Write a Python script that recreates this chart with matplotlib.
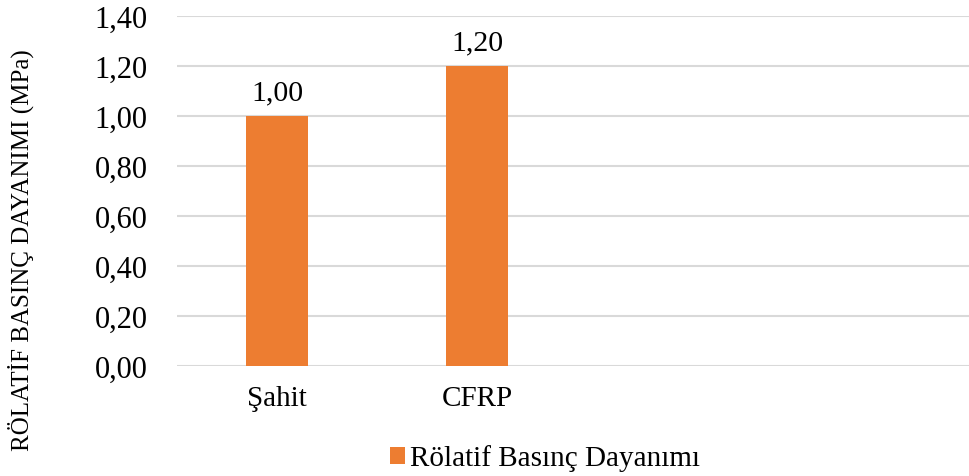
import matplotlib
matplotlib.use("Agg")
import matplotlib.pyplot as plt
from matplotlib.patches import Patch

# Data
categories = ["Şahit", "CFRP"]
values = [1.00, 1.20]
series_name = "Rölatif Basınç Dayanımı"
y_ticks = [0.0, 0.2, 0.4, 0.6, 0.8, 1.0, 1.2, 1.4]

plt.rcParams['font.family'] = ['Liberation Serif', 'DejaVu Serif']

bar_color = "#ED7D31"
grid_color = "#D9D9D9"

fig = plt.figure(figsize=(9.69, 4.77), dpi=100)
ax = fig.add_axes([0.1827, 0.2312, 0.8173, 0.7338])

x = list(range(len(categories)))
ax.bar(x, values, width=0.31, color=bar_color, zorder=3)

# value labels above bars
for xi, v in zip(x, values):
    ax.annotate(f"{v:.2f}".replace(".", ","), (xi, v), xytext=(0, 12),
                textcoords="offset points", ha="center", va="baseline",
                fontsize=21.5)

# axes styling
ax.set_xlim(-0.5, 3.46)
ax.set_ylim(0, 1.4)
ax.set_yticks(y_ticks)
ax.set_yticklabels([f"{t:.2f}".replace(".", ",") for t in y_ticks], fontsize=22)
ax.set_xticks(x)
ax.set_xticklabels(categories, fontsize=21)
ax.tick_params(axis="both", length=0)
ax.tick_params(axis="y", pad=21)
ax.tick_params(axis="x", pad=14)
for s in ax.spines.values():
    s.set_visible(False)
ax.yaxis.grid(True, color=grid_color, linewidth=1.5, zorder=0)
ax.set_axisbelow(True)

fig.text(0.021, 0.476, "RÖLATİF BASINÇ DAYANIMI (MPa)", rotation=90,
         ha="center", va="center", fontsize=18)

handle = Patch(facecolor=bar_color, edgecolor="none")
fig.legend([handle], [series_name], loc="center", bbox_to_anchor=(0.5624, 0.038),
           frameon=False, fontsize=21, handlelength=0.52, handleheight=0.52,
           handletextpad=0.15, borderpad=0)

fig.savefig("out.png", dpi=100)
